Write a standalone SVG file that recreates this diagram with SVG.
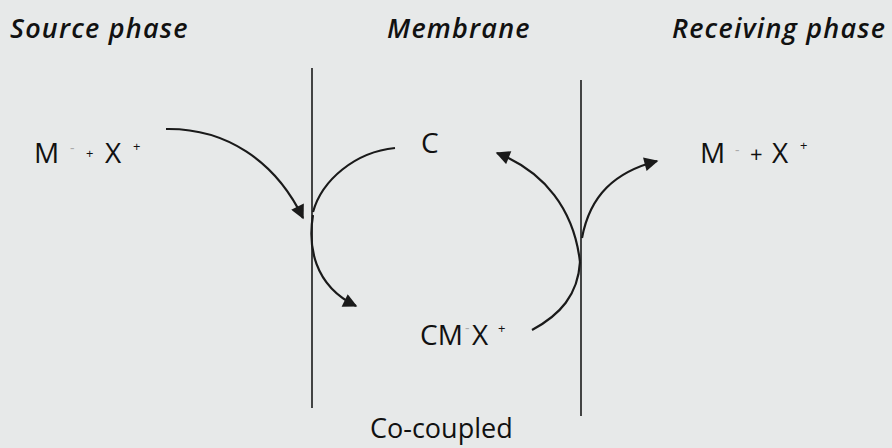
<svg xmlns="http://www.w3.org/2000/svg" width="892" height="448" viewBox="0 0 892 448">
<style>
.t{font-family:"Open Sans","Liberation Sans",sans-serif;font-size:28px;fill:#111}
.h{font-family:"Open Sans","Liberation Sans",sans-serif;font-size:27px;font-style:italic;font-weight:600;letter-spacing:1.2px;fill:#111}
.s{font-family:"Open Sans","Liberation Sans",sans-serif;font-size:13px;fill:#111}
.g{font-family:"Open Sans","Liberation Sans",sans-serif;font-size:14px;fill:#aaa}
.c{fill:none;stroke:#1a1a1a;stroke-width:2.2}
.m{fill:none;stroke:#1a1a1a;stroke-width:1.6}
</style>
<defs>
<marker id="ah" viewBox="0 0 10 10" refX="9" refY="5" markerWidth="16" markerHeight="14" markerUnits="userSpaceOnUse" orient="auto">
<path d="M0,0 L10,5 L0,10 Z" fill="#1a1a1a"/>
</marker>
</defs>
<rect width="892" height="448" fill="#e7e9e9"/>
<g id="headers">
<text class="h" x="10" y="38">Source phase</text>
<text class="h" x="387" y="38">Membrane</text>
<text class="h" x="672" y="38">Receiving phase</text>
</g>
<g id="membranes">
<line class="m" x1="312" y1="68" x2="312" y2="408"/>
<line class="m" x1="581" y1="80" x2="581" y2="416"/>
</g>
<g id="source-species">
<text class="t" x="34" y="163">M</text>
<text class="g" x="70" y="153">-</text>
<text class="s" x="86" y="158">+</text>
<text class="t" x="105" y="163">X</text>
<text class="s" x="133" y="151">+</text>
</g>
<g id="carrier">
<text class="t" x="421" y="153">C</text>
</g>
<g id="complex">
<text class="t" x="420" y="345">CM</text>
<text class="g" x="465" y="333">-</text>
<text class="t" x="472" y="345">X</text>
<text class="s" x="498" y="333">+</text>
</g>
<g id="receiving-species">
<text class="t" x="700" y="163">M</text>
<text class="g" x="735" y="155">-</text>
<text class="t" x="750" y="162" style="font-size:22px">+</text>
<text class="t" x="772" y="163">X</text>
<text class="s" x="800" y="150">+</text>
</g>
<g id="label">
<text class="t" x="370" y="438" style="font-size:27px">Co-coupled</text>
</g>
<g id="connectors">
<path class="c" d="M166,129 C225,128 275,160 303,218" marker-end="url(#ah)"/>
<path class="c" d="M395,148 C355,152 322,180 313,212"/>
<path class="c" d="M313,215 C308,245 313,285 356,306" marker-end="url(#ah)"/>
<path class="c" d="M532,330 C560,315 578,295 580,262"/>
<path class="c" d="M580,262 C574,210 545,172 497,153" marker-end="url(#ah)"/>
<path class="c" d="M582,238 C590,195 615,172 657,161" marker-end="url(#ah)"/>
</g>
</svg>
